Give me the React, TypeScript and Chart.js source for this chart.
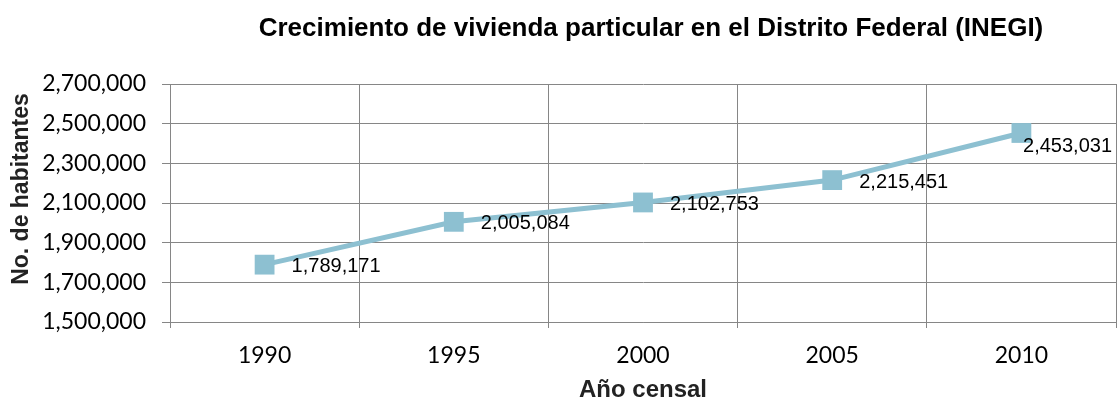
import React, { useEffect, useRef } from "react";
import { Chart, registerables } from "chart.js";

Chart.register(...registerables);

const years = ["1990", "1995", "2000", "2005", "2010"];
const viviendas = [1789171, 2005084, 2102753, 2215451, 2453031];
const yMin = 1500000;
const yMax = 2700000;
const yStep = 200000;

const chartTitle = "Crecimiento de vivienda particular en el Distrito Federal (INEGI)";
const yTitle = "No. de habitantes";
const xTitle = "Año censal";

const fmt = (v: number) => v.toLocaleString("en-US");

const lineColor = "#8dc0d1";
const gridColor = "#868686";

export default function App() {
  const ref = useRef<HTMLCanvasElement | null>(null);
  useEffect(() => {
    if (!ref.current) return;
    const textPlugin = {
      id: "texts",
      afterDraw(chart: any) {
        const ctx = chart.ctx;
        ctx.save();
        ctx.fillStyle = "#000";
        ctx.font = "bold 26px 'Liberation Sans', Arial, sans-serif";
        ctx.textAlign = "center";
        ctx.textBaseline = "middle";
        ctx.fillText(chartTitle, 651, 29);
        ctx.translate(22, 189);
        ctx.rotate(-Math.PI / 2);
        ctx.fillStyle = "#222";
        ctx.font = "bold 23px 'Liberation Sans', Arial, sans-serif";
        ctx.fillText(yTitle, 0, 0);
        ctx.restore();
      },
      afterDatasetsDraw(chart: any) {
        const ctx = chart.ctx;
        const meta = chart.getDatasetMeta(0);
        ctx.save();
        ctx.fillStyle = "#000";
        ctx.font = "20px 'Liberation Sans', Arial, sans-serif";
        ctx.textAlign = "left";
        ctx.textBaseline = "middle";
        meta.data.forEach((pt: any, i: number) => {
          const txt = fmt(viviendas[i]);
          const w = ctx.measureText(txt).width;
          let x = pt.x + 27;
          let y = pt.y + 2;
          if (x + w > chart.width - 8) {
            x = chart.width - 8 - w;
            y = pt.y + 14;
          }
          ctx.fillText(txt, x, y);
        });
        ctx.restore();
      },
    };
    const chart = new Chart(ref.current, {
      type: "line",
      data: {
        labels: years,
        datasets: [
          {
            data: viviendas,
            borderColor: lineColor,
            backgroundColor: lineColor,
            borderWidth: 5,
            pointStyle: "rect",
            pointRadius: 14,
            pointHoverRadius: 14,
            pointBorderWidth: 0,
            tension: 0,
            clip: false,
          },
        ],
      },
      options: {
        responsive: false,
        animation: false,
        events: [],
        layout: { autoPadding: false, padding: { top: 84, right: 4, left: 0, bottom: 0 } },
        plugins: {
          legend: { display: false },
          title: { display: false },
          tooltip: { enabled: false },
        },
        scales: {
          x: {
            offset: true,
            grid: { offset: true, color: gridColor, lineWidth: 1, tickLength: 6, drawTicks: true },
            border: { color: gridColor },
            ticks: { color: "#000", font: { family: "Lato", size: 23 }, padding: 14 },
            title: {
              display: true,
              text: xTitle,
              color: "#222",
              font: { family: "'Liberation Sans', Arial", size: 24, weight: "bold", lineHeight: 1 },
              padding: { top: 0, bottom: -2 },
              align: "center",
            },
            afterFit(scale: any) {
              scale.height = 78;
              scale.paddingLeft = 0;
              scale.paddingRight = 0;
            },
          },
          y: {
            min: yMin,
            max: yMax,
            grid: { color: gridColor, lineWidth: 1, tickLength: 8 },
            border: { color: gridColor },
            ticks: {
              stepSize: yStep,
              color: "#000",
              font: { family: "Lato", size: 23 },
              padding: 16,
              callback: (v: any) => fmt(Number(v)),
            },
            afterFit(scale: any) {
              scale.width = 170;
            },
          },
        },
      },
      plugins: [textPlugin],
    } as any);
    return () => chart.destroy();
  }, []);
  return (
    <div style={{ position: "fixed", left: 0, top: 0, width: 1120, height: 400, background: "#fff" }}>
      <canvas ref={ref} width={1120} height={400} style={{ width: 1120, height: 400 }} />
    </div>
  );
}
